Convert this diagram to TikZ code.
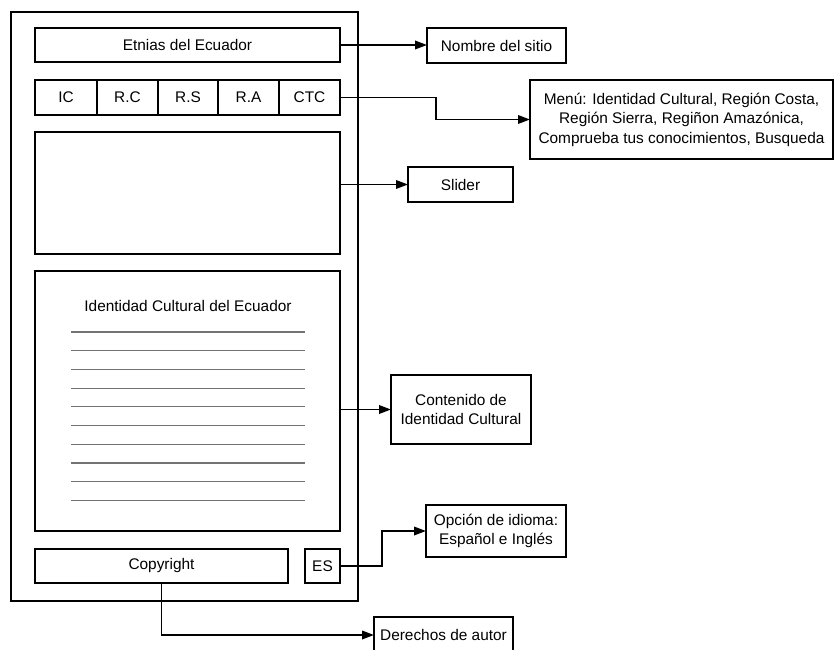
\documentclass[tikz,border=0pt]{standalone}
\usepackage{fontspec}
\setmainfont{Liberation Sans}
\usetikzlibrary{arrows.meta,calc}
\tikzset{
  box/.style={draw=black,line width=1.7pt,inner sep=0pt,outer sep=0pt,align=center,font=\fontsize{15.4}{18.5}\selectfont},
  conn/.style={line width=1.9pt,-{Triangle[length=12pt,width=8.5pt]}},
  txtline/.style={draw=black!55,line width=1.2pt},
}
\newcommand{\bx}[6]{\node[box,minimum width=#4-#2,minimum height=#5-#3,anchor=north west] (#1) at (#2,#3) {#6};}
\begin{document}
\begin{tikzpicture}[x=1pt,y=-1pt]
\useasboundingbox (0,0) rectangle (835,650);
% frame
\node[draw=black,line width=2.1pt,minimum width=347pt,minimum height=589pt,anchor=north west,inner sep=0pt] (frame) at (10,11) {};
\bx{etnias}{35}{28}{340}{62}{Etnias del Ecuador}
\bx{ic}{35}{80}{97}{115}{IC}
\bx{rc}{97}{80}{158}{115}{R.C}
\bx{rs}{158}{80}{218}{115}{R.S}
\bx{ra}{218}{80}{279}{115}{R.A}
\bx{ctc}{279}{80}{340}{115}{CTC}
\bx{slidearea}{35}{132}{340}{254}{}
\bx{content}{35}{271}{340}{531}{}
\node[font=\fontsize{15.4}{18.5}\selectfont] (ctitle) at (188,306) {Identidad Cultural del Ecuador};
\foreach \k in {0,...,9}{
  \coordinate (l\k a) at (71,332+18.7*\k);
  \coordinate (l\k b) at (305,332+18.7*\k);
  \draw[txtline] (l\k a) -- (l\k b);
}
\bx{copyright}{35}{549}{288}{583}{Copyright}
\bx{es}{305}{549}{340}{583}{ES}
% right side
\bx{nombre}{427}{28}{566}{63}{Nombre del sitio}
\node[box,minimum width=303pt,minimum height=79pt,anchor=north west,font=\fontsize{15.4}{19.5}\selectfont] (menuinfo) at (530,80) {Menú: Identidad Cultural, Región Costa,\\Región Sierra, Regiñon Amazónica,\\Comprueba tus conocimientos, Busqueda};
\bx{sliderbox}{408}{167}{513}{202}{Slider}
\bx{contenido}{391}{375}{531}{444}{Contenido de\\Identidad Cultural}
\bx{opcion}{426}{505}{566}{557}{Opción de idioma:\\Español e Inglés}
\bx{derechos}{374}{617}{513}{653}{Derechos de autor}
% connectors
\draw[conn] (etnias.east) -- (etnias.east -| nombre.west);
\draw[conn] (ctc.east) -- ++(96,0) |- (menuinfo.west);
\draw[conn] (sliderbox.west -| slidearea.east) -- (sliderbox.west);
\draw[conn] (contenido.west -| content.east) -- (contenido.west);
\draw[conn] (es.east) -- ++(42,0) |- (opcion.west);
\draw[conn] (copyright.south) |- (derechos.west);
\end{tikzpicture}
\end{document}
